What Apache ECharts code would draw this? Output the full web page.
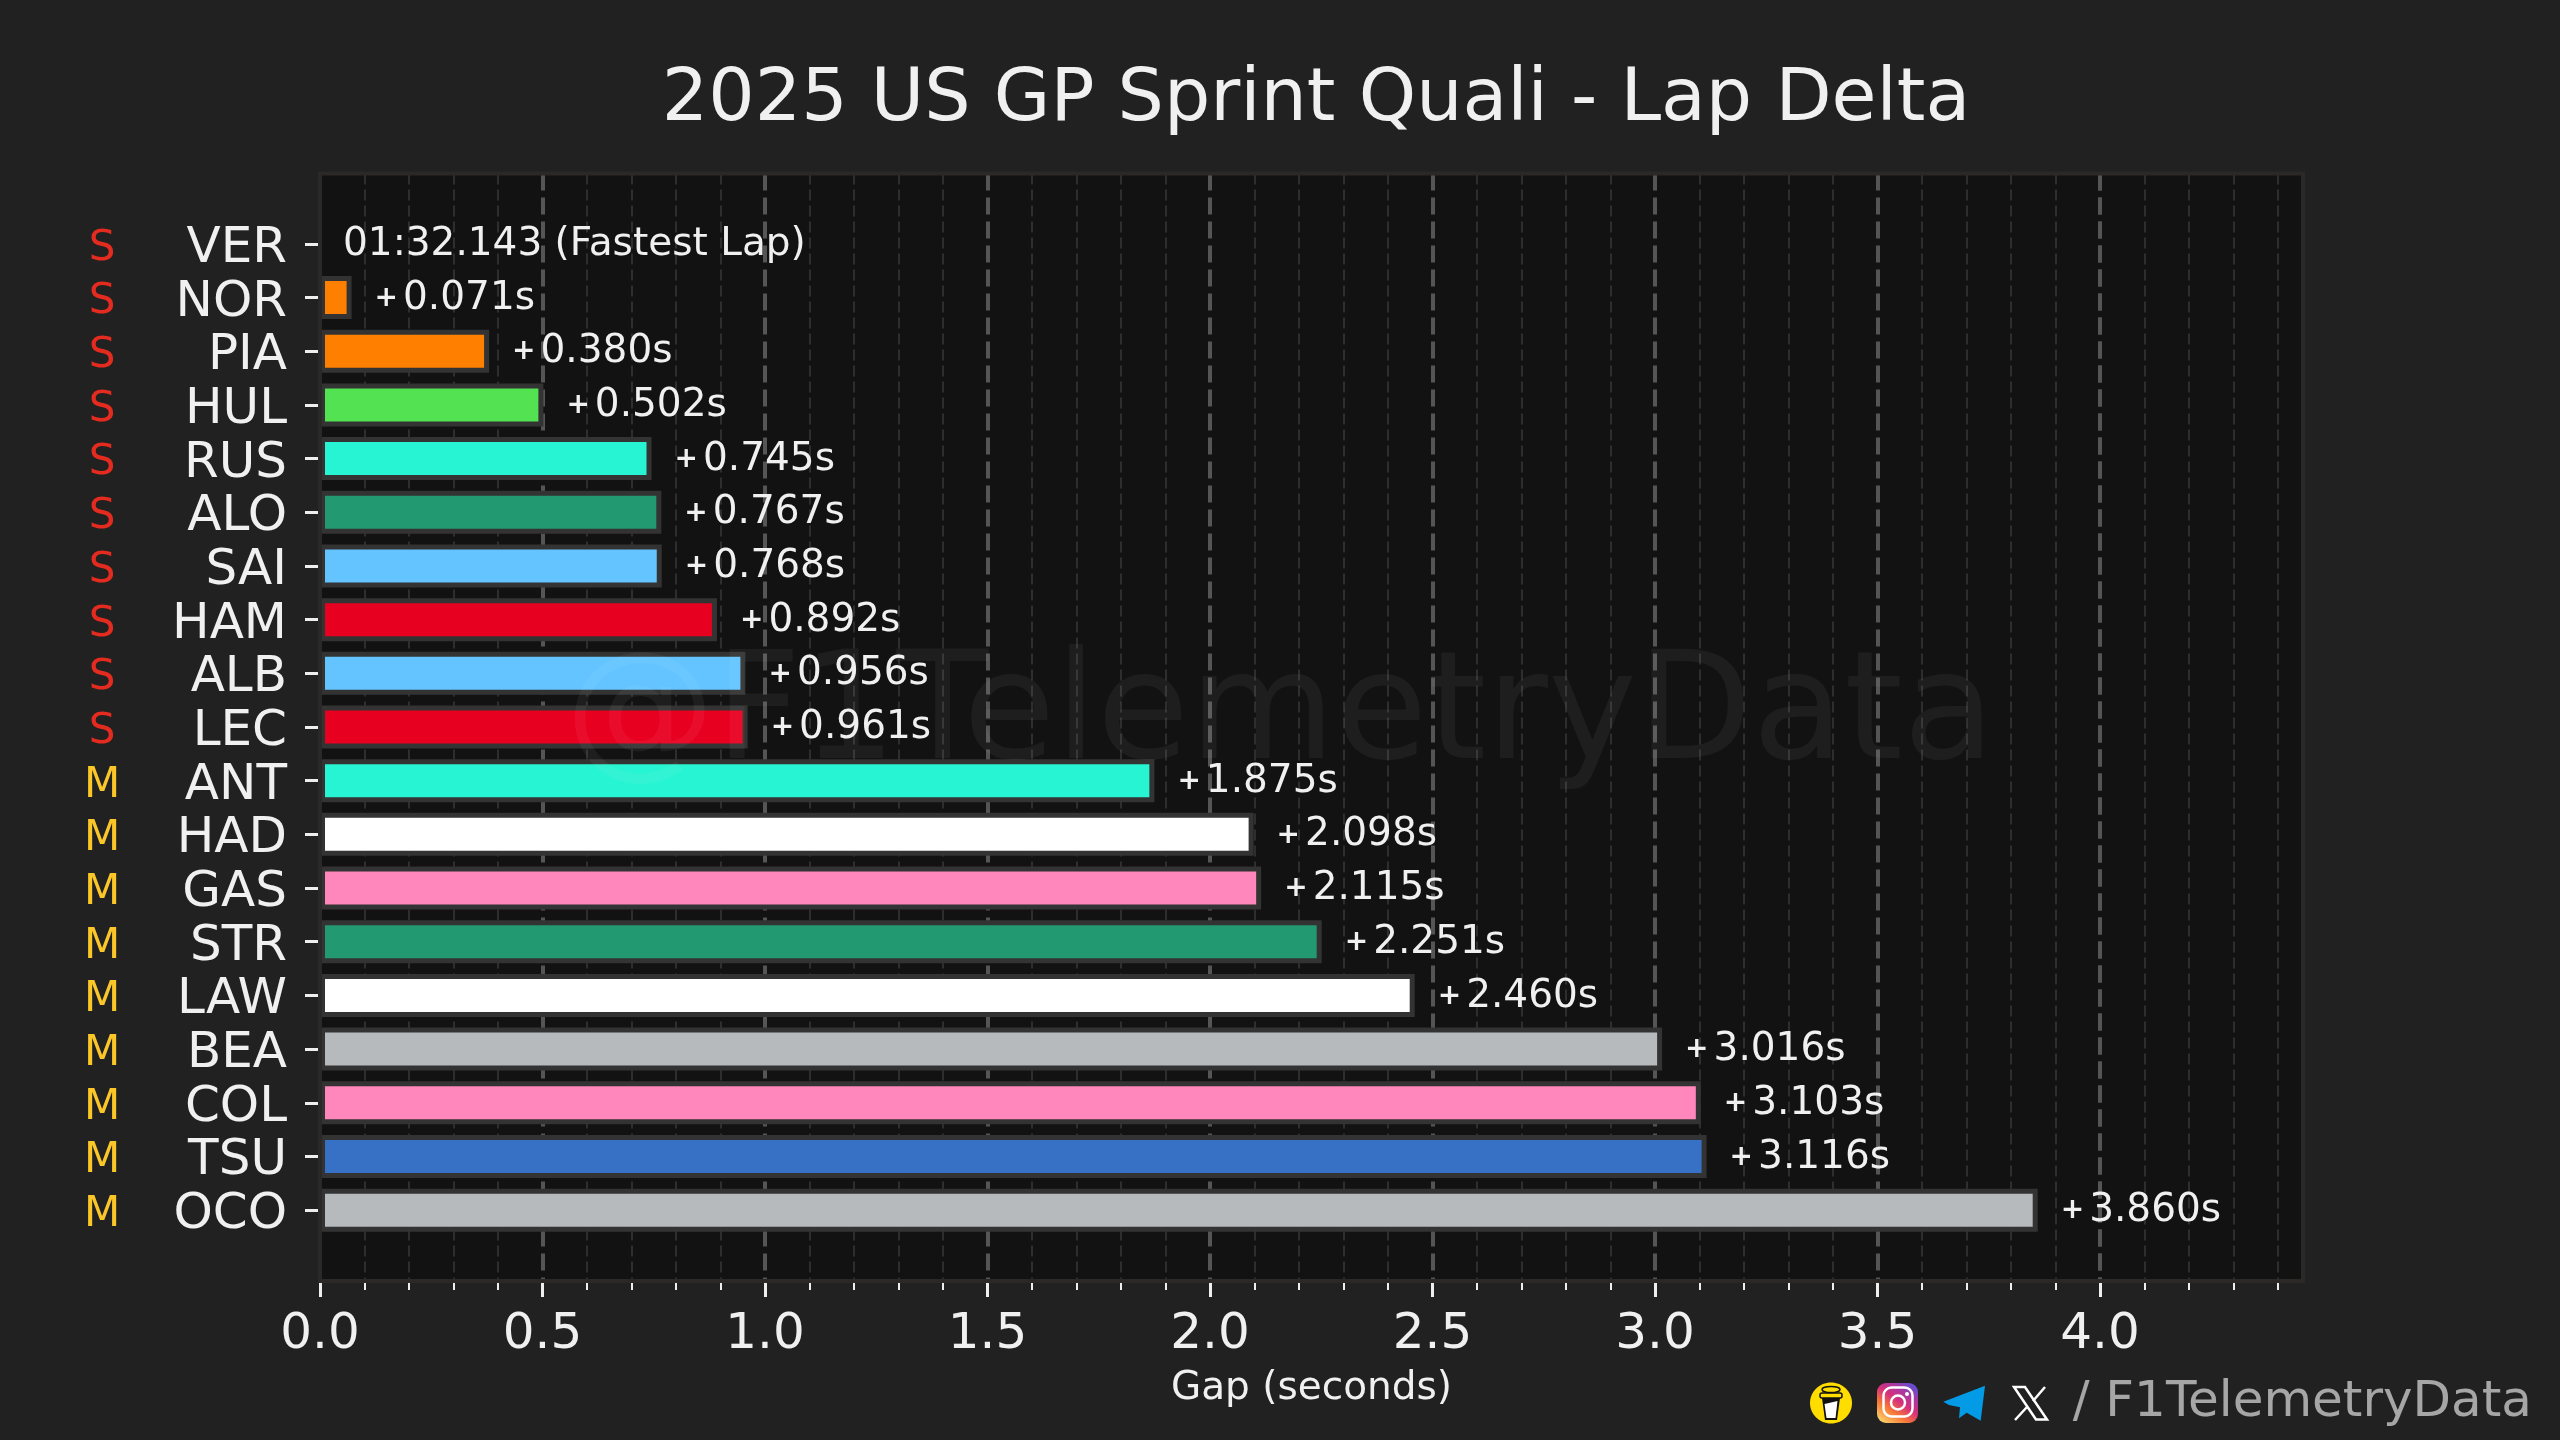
<!DOCTYPE html>
<html>
<head>
<meta charset="utf-8">
<title>2025 US GP Sprint Quali - Lap Delta</title>
<script src="https://cdn.jsdelivr.net/npm/echarts@6/dist/echarts.min.js"></script>
<style>html,body{margin:0;padding:0;background:#212121}#c{width:2560px;height:1440px}</style>
</head>
<body>
<div id="c"></div>
<script>
const titleText = '2025 US GP Sprint Quali - Lap Delta';
const xAxisName = 'Gap (seconds)';
const fastestLapText = '01:32.143 (Fastest Lap)';
const watermark = '@F1TelemetryData';
const handle = '/ F1TelemetryData';
const drivers = ['VER','NOR','PIA','HUL','RUS','ALO','SAI','HAM','ALB','LEC','ANT','HAD','GAS','STR','LAW','BEA','COL','TSU','OCO'];
const compounds = ['S','S','S','S','S','S','S','S','S','S','M','M','M','M','M','M','M','M','M'];
const gaps = [0,0.071,0.380,0.502,0.745,0.767,0.768,0.892,0.956,0.961,1.875,2.098,2.115,2.251,2.460,3.016,3.103,3.116,3.860];
const barColors = ['#3671c6','#ff8000','#ff8000','#52e252','#27f4d2','#229971','#64c4ff','#e80020','#64c4ff','#e80020','#27f4d2','#ffffff','#ff87bc','#229971','#ffffff','#b6babd','#ff87bc','#3671c6','#b6babd'];
const compoundColors = {S:'#e32b1f', M:'#fbc628'};
const xTicks = [0,0.5,1,1.5,2,2.5,3,3.5,4];
const lastGridValue = 4;

const FONT = '"DejaVu Sans"';
const TXT = '#f0f0f0';
const plotL = 320, plotR = 2303, plotT = 173.5, plotB = 1281;
const xMax = (plotR-plotL)/445;
const majorLine = {color:'#555555',width:4,type:[17,7]};

const chart = echarts.init(document.getElementById('c'), null, {renderer:'canvas', devicePixelRatio:1});

const icons = [
  // plot frame
  {type:'rect', z:50, shape:{x:plotL,y:plotT,width:plotR-plotL,height:plotB-plotT}, style:{fill:null,stroke:'#2b2927',lineWidth:4}},
  // watermark
  {type:'text', z:60, style:{x:1280,y:719,text:watermark,font:'150px '+FONT,fill:'rgba(255,255,255,0.05)',textAlign:'center',textVerticalAlign:'middle'}},
  // coffee icon
  {type:'ellipse', z:60, shape:{cx:1831,cy:1403,rx:21,ry:20.5}, style:{fill:'#ffdd00'}},
  {type:'polygon', z:61, shape:{points:[[1822,1398],[1840,1398],[1837,1420],[1825,1420]]}, style:{fill:'#111'}},
  {type:'polygon', z:62, shape:{points:[[1824.5,1404],[1837.5,1401],[1835.5,1418],[1826.5,1418]]}, style:{fill:'#fff'}},
  {type:'rect', z:62, shape:{x:1820,y:1393,width:22,height:5,r:2}, style:{fill:'#ffdd00',stroke:'#111',lineWidth:1.5}},
  {type:'ellipse', z:62, shape:{cx:1831,cy:1389.5,rx:9,ry:3}, style:{fill:'#ffdd00',stroke:'#111',lineWidth:1.5}},
  // instagram icon
  {type:'rect', z:60, shape:{x:1877,y:1383,width:41,height:40,r:9}, style:{fill:new echarts.graphic.LinearGradient(0.15,1,0.85,0,[
     {offset:0,color:'#fcd26b'},{offset:0.3,color:'#f77737'},{offset:0.55,color:'#d62f7c'},{offset:0.8,color:'#a23aa8'},{offset:1,color:'#5b51d8'}])}},
  {type:'rect', z:61, shape:{x:1883.5,y:1387.5,width:29,height:29,r:8}, style:{fill:null,stroke:'#fff',lineWidth:2.5}},
  {type:'circle', z:61, shape:{cx:1898,cy:1402.5,r:7}, style:{fill:null,stroke:'#fff',lineWidth:2.5}},
  {type:'circle', z:61, shape:{cx:1907,cy:1394,r:2}, style:{fill:'#fff'}},
  // telegram icon
  {type:'polygon', z:60, shape:{points:[[1943.3,1401.7],[1985,1385.7],[1980.7,1420.7],[1966.7,1412.7],[1959,1418.3],[1960,1407.3],[1949,1405]]}, style:{fill:'#039be5'}},
  // X icon
  {type:'polygon', z:60, shape:{points:[[2014,1387],[2025,1387],[2047,1419.5],[2036,1419.5]]}, style:{fill:null,stroke:'#fff',lineWidth:2.5}},
  {type:'line', z:60, shape:{x1:2045,y1:1387,x2:2033,y2:1401}, style:{stroke:'#fff',lineWidth:2.5}},
  {type:'line', z:60, shape:{x1:2027,y1:1407,x2:2015,y2:1420}, style:{stroke:'#fff',lineWidth:2.5}},
  // handle
  {type:'text', z:60, style:{x:2532,y:1403,text:handle,font:'50px '+FONT,fill:'#a6a6a6',textAlign:'right',textVerticalAlign:'middle'}}
];

chart.setOption({
  animation:false,
  backgroundColor:'#212121',
  textStyle:{fontFamily:FONT},
  title:{text:titleText,left:1311,top:60,textAlign:'center',textStyle:{color:TXT,fontFamily:FONT,fontSize:73,fontWeight:'normal'}},
  grid:[
    {left:plotL,top:plotT,width:plotR-plotL,height:plotB-plotT,show:true,backgroundColor:'#121212',borderWidth:0},
    {left:plotL,top:217,width:plotR-plotL,height:1020,show:false},
    {left:plotL,top:plotT,width:plotR-plotL,height:plotB-plotT,show:false}
  ],
  xAxis:[
    {gridIndex:0,type:'value',min:0,max:xMax,interval:0.5,position:'bottom',
     name:xAxisName,nameLocation:'middle',nameGap:88,nameTextStyle:{color:TXT,fontSize:39,fontFamily:FONT},
     axisLine:{show:false},
     axisTick:{show:true,length:16,customValues:xTicks,lineStyle:{color:'#eeeeee',width:3}},
     minorTick:{show:true,splitNumber:5,length:9,lineStyle:{color:'#eeeeee',width:2}},
     axisLabel:{show:true,margin:29,color:TXT,fontSize:50,fontFamily:FONT,customValues:xTicks,formatter:v=>v.toFixed(1)},
     splitLine:{show:true,showMinLine:false,lineStyle:majorLine},
     minorSplitLine:{show:true,lineStyle:{color:'#2e2e2e',width:2,type:[11,5]}}},
    {gridIndex:1,type:'value',min:0,max:xMax,show:false,splitLine:{show:false}},
    {gridIndex:2,type:'value',min:0,max:xMax,show:false,splitLine:{show:false}}
  ],
  yAxis:[
    {gridIndex:0,type:'category',data:[],show:false},
    {gridIndex:1,type:'category',data:drivers,inverse:true,position:'left',
     axisLine:{show:false},
     axisTick:{show:true,alignWithLabel:true,interval:0,length:15,lineStyle:{color:'#eeeeee',width:3}},
     axisLabel:{show:true,interval:0,margin:33,verticalAlign:'top',lineHeight:10,color:TXT,fontSize:50,fontFamily:FONT},
     splitLine:{show:false}},
    {gridIndex:1,type:'category',data:compounds,inverse:true,position:'left',offset:200,
     axisLine:{show:false},axisTick:{show:false},splitLine:{show:false},
     axisLabel:{show:true,margin:18,align:'center',verticalAlign:'top',lineHeight:10,fontSize:42,fontFamily:FONT,
       interval:0,color:(v)=>compoundColors[v]||TXT}},
    {gridIndex:2,type:'value',min:0,max:1,show:false,splitLine:{show:false}}
  ],
  series:[{
    type:'bar',xAxisIndex:1,yAxisIndex:1,barWidth:43,z:3,
    data:gaps.map((g,i)=>({value:g,itemStyle:{color:barColors[i],borderColor:'#333333',borderWidth:g>0?5:0}})),
    label:{show:true,position:'right',distance:23,offset:[0,1],color:TXT,fontFamily:FONT,
      formatter:p=>p.value>0?'{p|+}{v|'+p.value.toFixed(3)+'s}':'{v|'+fastestLapText+'}',
      rich:{p:{fontSize:28,fontWeight:'bold',color:TXT,fontFamily:FONT,padding:[0,5,0,0]},v:{fontSize:39,color:TXT,fontFamily:FONT}}}
  },{
    type:'line',xAxisIndex:2,yAxisIndex:3,z:1,showSymbol:false,silent:true,clip:false,
    data:[[lastGridValue,1],[lastGridValue,0]],lineStyle:majorLine
  }],
  graphic:{elements:icons}
});
</script>
</body>
</html>
